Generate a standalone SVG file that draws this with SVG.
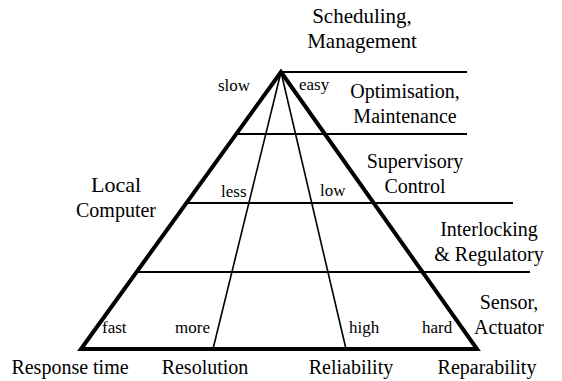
<svg xmlns="http://www.w3.org/2000/svg" width="562" height="381" viewBox="0 0 562 381" font-family="'Liberation Serif', 'DejaVu Serif', serif">
  <style>
    .edge { fill: none; stroke: #000; stroke-width: 4; stroke-linejoin: miter; }
    .rule { stroke: #000; stroke-width: 1.8; }
    .split { stroke: #000; stroke-width: 1.6; }
    .big { font-size: 20px; text-anchor: middle; }
    .small { font-size: 17px; }
  </style>
  <rect width="562" height="381" fill="#fff"/>

  <!-- pyramid outline and internal dividers -->
  <g id="pyramid">
    <path class="edge" d="M81,349 L281,72 L477,349 Z"/>
    <line class="split" x1="281" y1="72" x2="213" y2="349"/>
    <line class="split" x1="281" y1="72" x2="346" y2="349"/>
  </g>

  <!-- level boundaries -->
  <g id="levels">
    <line class="rule" x1="281" y1="72" x2="467" y2="72" stroke-width="2"/>
    <line class="rule" x1="236" y1="134" x2="467" y2="134"/>
    <line class="rule" x1="186" y1="203" x2="513" y2="203"/>
    <line class="rule" x1="135" y1="272" x2="530" y2="272"/>
  </g>

  <!-- level names -->
  <g id="level-scheduling">
    <text class="big" x="362" y="23" style="font-size:21px">Scheduling,</text>
    <text class="big" x="362" y="48" style="font-size:21px">Management</text>
  </g>
  <g id="level-optimisation">
    <text class="big" x="405" y="98">Optimisation,</text>
    <text class="big" x="405" y="123">Maintenance</text>
  </g>
  <g id="level-supervisory">
    <text class="big" x="415" y="168">Supervisory</text>
    <text class="big" x="415" y="193">Control</text>
  </g>
  <g id="level-interlocking">
    <text class="big" x="489" y="236">Interlocking</text>
    <text class="big" x="489" y="261">&amp; Regulatory</text>
  </g>
  <g id="level-sensor">
    <text class="big" x="509" y="309">Sensor,</text>
    <text class="big" x="509" y="334">Actuator</text>
  </g>
  <g id="local-computer">
    <text class="big" x="116" y="192" style="font-size:22px">Local</text>
    <text class="big" x="116" y="217">Computer</text>
  </g>

  <!-- trend labels inside the pyramid -->
  <g id="trends">
    <text class="small" x="218" y="91">slow</text>
    <text class="small" x="299" y="90">easy</text>
    <text class="small" x="221" y="197">less</text>
    <text class="small" x="320" y="196">low</text>
    <text class="small" x="102" y="333">fast</text>
    <text class="small" x="175" y="333">more</text>
    <text class="small" x="349" y="333">high</text>
    <text class="small" x="422" y="333">hard</text>
  </g>

  <!-- axis captions -->
  <g id="criteria">
    <text class="big" x="70" y="374">Response time</text>
    <text class="big" x="205" y="374">Resolution</text>
    <text class="big" x="351" y="374">Reliability</text>
    <text class="big" x="487" y="374">Reparability</text>
  </g>
</svg>
